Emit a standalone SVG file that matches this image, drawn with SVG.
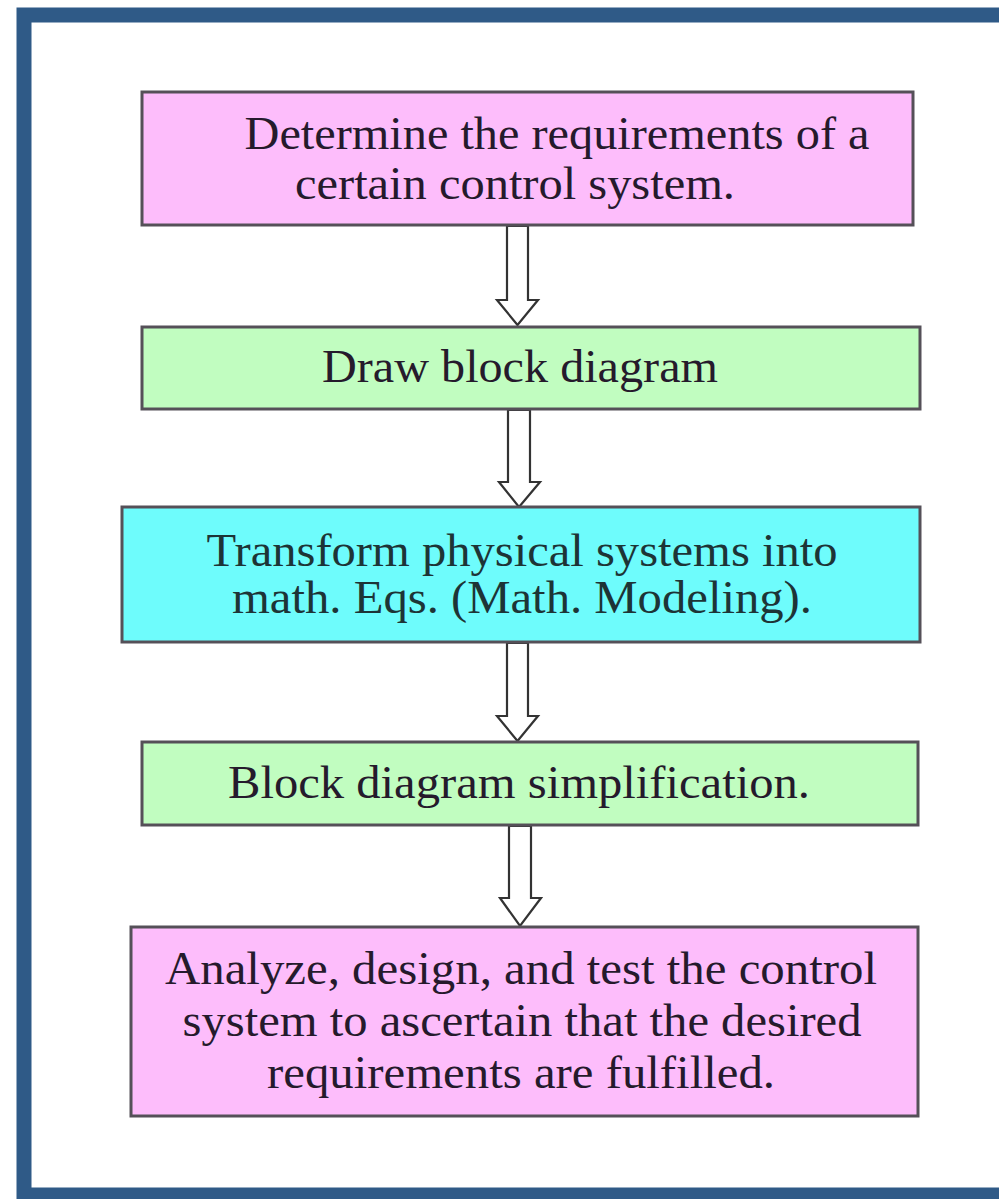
<svg xmlns="http://www.w3.org/2000/svg" width="999" height="1199" viewBox="0 0 999 1199">
  <style>
    .box { stroke: #555058; stroke-width: 3; }
    .pink { fill: #fdbdfb; }
    .green { fill: #c1fdc0; }
    .cyan { fill: #6efcfc; }
    .label { font-family: "Liberation Serif", "Times New Roman", serif; font-size: 46px; text-anchor: middle; fill: #251a2c; }
    .dark { fill: #1d3436; }
    .arrow { fill: #ffffff; stroke: #333333; stroke-width: 2.2; stroke-linejoin: miter; }
  </style>

  <!-- page background and frame -->
  <rect x="0" y="0" width="999" height="1199" fill="#ffffff"/>
  <rect x="24" y="15" width="1000" height="1180" fill="none" stroke="#2f5a87" stroke-width="15"/>

  <!-- block arrows between the steps -->
  <g id="connectors">
    <path class="arrow" d="M507,226 L528,226 L528,300 L538,300 L517.5,325 L497,300 L507,300 Z"/>
    <path class="arrow" d="M508,410 L530,410 L530,482 L540,482 L519,507 L499,482 L508,482 Z"/>
    <path class="arrow" d="M507,643 L528,643 L528,716 L538,716 L517.5,741 L497,716 L507,716 Z"/>
    <path class="arrow" d="M509,826 L531,826 L531,898 L541,898 L520,926 L500,898 L509,898 Z"/>
  </g>

  <g id="requirements">
    <rect class="box pink" x="142" y="92" width="771" height="133"/>
    <text class="label" x="557" y="149" textLength="625" lengthAdjust="spacingAndGlyphs">Determine the requirements of a</text>
    <text class="label" x="515" y="199" textLength="440" lengthAdjust="spacingAndGlyphs">certain control system.</text>
  </g>

  <g id="draw-block-diagram">
    <rect class="box green" x="142" y="327" width="778" height="82"/>
    <text class="label" x="520" y="382" textLength="396" lengthAdjust="spacingAndGlyphs">Draw block diagram</text>
  </g>

  <g id="math-modeling">
    <rect class="box cyan" x="122" y="507" width="798" height="135"/>
    <text class="label dark" x="522" y="566" textLength="631" lengthAdjust="spacingAndGlyphs">Transform physical systems into</text>
    <text class="label dark" x="522" y="613" textLength="580" lengthAdjust="spacingAndGlyphs">math. Eqs. (Math. Modeling).</text>
  </g>

  <g id="simplification">
    <rect class="box green" x="142" y="742" width="776" height="83"/>
    <text class="label" x="519" y="798" textLength="582" lengthAdjust="spacingAndGlyphs">Block diagram simplification.</text>
  </g>

  <g id="analyze-design-test">
    <rect class="box pink" x="131" y="927" width="787" height="189"/>
    <text class="label" x="521" y="984" textLength="712" lengthAdjust="spacingAndGlyphs">Analyze, design, and test the control</text>
    <text class="label" x="522" y="1036" textLength="679" lengthAdjust="spacingAndGlyphs">system to ascertain that the desired</text>
    <text class="label" x="521" y="1088" textLength="508" lengthAdjust="spacingAndGlyphs">requirements are fulfilled.</text>
  </g>
</svg>
